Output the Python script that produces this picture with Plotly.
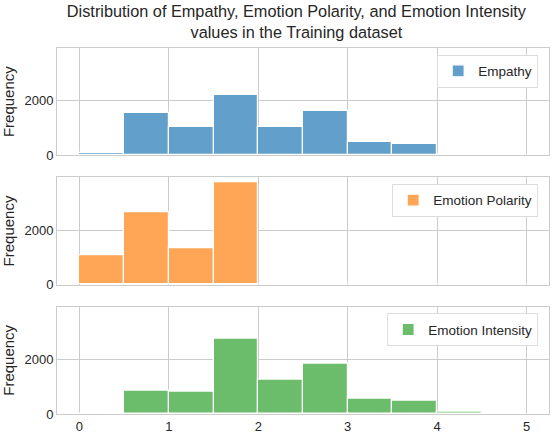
import plotly.graph_objects as go
from plotly.subplots import make_subplots

# histogram bins (width 0.5 from 0 to 5) and counts
bin_edges = [0, 0.5, 1, 1.5, 2, 2.5, 3, 3.5, 4, 4.5, 5]
empathy = [90, 1560, 1040, 2205, 1050, 1645, 500, 430, 40, 0]
polarity = [1095, 2655, 1325, 3750, 0, 0, 0, 0, 0, 0]
intensity = [30, 850, 830, 2780, 1245, 1830, 555, 485, 75, 15]

names = ["Empathy", "Emotion Polarity", "Emotion Intensity"]
colors = ["#62a0cb", "#ffa556", "#6bbd6b"]
series = [empathy, polarity, intensity]

centers = [(bin_edges[i] + bin_edges[i + 1]) / 2 for i in range(len(bin_edges) - 1)]

fig = make_subplots(rows=3, cols=1, shared_xaxes=True, vertical_spacing=0.06)

for i, (name, vals, col) in enumerate(zip(names, series, colors)):
    fig.add_trace(go.Bar(x=centers, y=vals, width=0.5, name=name, showlegend=True,
                         marker=dict(color=col, line=dict(color="white", width=1.2)),
                         legend="legend" if i == 0 else "legend%d" % (i + 1)),
                  row=i + 1, col=1)

font = "Liberation Sans, Arial, sans-serif"
fig.update_layout(
    width=552, height=436,
    margin=dict(l=57, r=2, t=48, b=20),
    plot_bgcolor="white", paper_bgcolor="white",
    showlegend=True,
    font=dict(family=font, size=13, color="#262626"),
    bargap=0,
    title=dict(text="Distribution of Empathy, Emotion Polarity, and Emotion Intensity<br>values in the Training dataset",
               x=0.537, xanchor="center", yref="container", y=0.962, yanchor="top",
               font=dict(size=16.3, color="#262626")),
)

for i in range(3):
    fig.update_xaxes(range=[-0.25, 5.25], dtick=1, showgrid=True, gridcolor="#cccccc",
                     showline=True, linecolor="#cccccc", mirror=True, zeroline=False,
                     ticks="", row=i + 1, col=1)
    fig.update_yaxes(range=[0, 3938], dtick=2000, showgrid=True, gridcolor="#cccccc",
                     showline=True, linecolor="#cccccc", mirror=True, zeroline=False,
                     title=dict(text="Frequency", standoff=7, font=dict(size=15)),
                     ticks="", row=i + 1, col=1)

# one legend per panel, top right
for i, key in enumerate(["legend", "legend2", "legend3"]):
    yax = "yaxis" if i == 0 else "yaxis%d" % (i + 1)
    top = fig.layout[yax].domain[1]
    fig.update_layout({key: dict(x=0.978, xanchor="right", y=top - 0.018, yanchor="top",
                                 bgcolor="white", bordercolor="#dddddd", borderwidth=1,
                                 font=dict(size=13.5, color="#262626"))})

fig.write_html("out.html", config={"displayModeBar": False},
               post_script="document.body.style.margin='0px';")
